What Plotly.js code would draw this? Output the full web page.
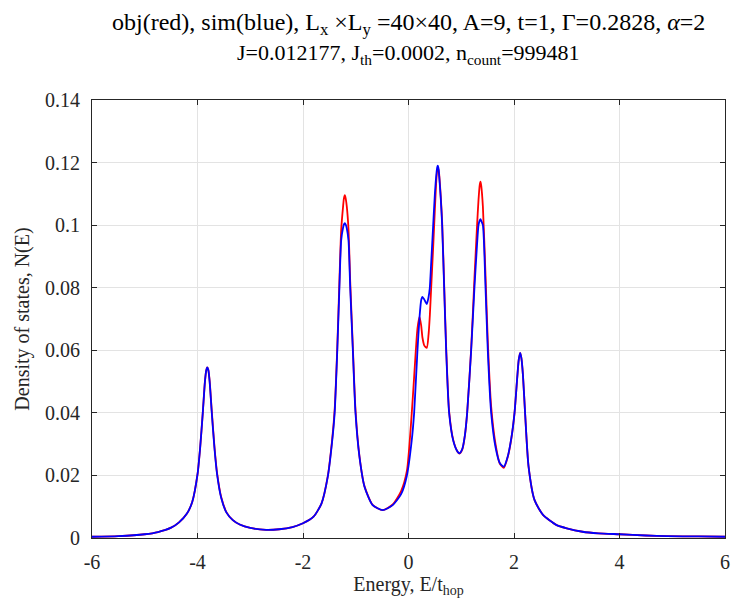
<!DOCTYPE html>
<html>
<head>
<meta charset="utf-8">
<script src="https://cdn.plot.ly/plotly-3.0.1.min.js"></script>
<style>html,body{margin:0;padding:0;background:#fff;}#chart{width:739px;height:612px;}</style>
</head>
<body>
<div id="chart"></div>
<script>
const energy = [-6, -5.5, -5, -4.75, -4.5, -4.35, -4.2, -4.1, -4.0, -3.95, -3.9, -3.86, -3.835, -3.815, -3.795, -3.77, -3.73, -3.68, -3.63, -3.55, -3.45, -3.33, -3.2, -3.0, -2.7, -2.45, -2.2, -2.0, -1.8, -1.65, -1.53, -1.45, -1.4, -1.35, -1.31, -1.276, -1.24, -1.225, -1.207, -1.19, -1.17, -1.137, -1.105, -1.055, -1.005, -0.93, -0.834, -0.68, -0.49, -0.3, -0.14, -0.03, 0.06, 0.107, 0.17, 0.209, 0.24, 0.265, 0.3, 0.347, 0.38, 0.404, 0.43, 0.468, 0.5, 0.53, 0.545, 0.555, 0.568, 0.58, 0.61, 0.638, 0.676, 0.714, 0.77, 0.85, 0.93, 0.967, 1.02, 1.07, 1.112, 1.188, 1.25, 1.3, 1.327, 1.35, 1.365, 1.38, 1.41, 1.46, 1.503, 1.567, 1.65, 1.73, 1.807, 1.88, 1.95, 2.01, 2.06, 2.09, 2.117, 2.14, 2.17, 2.21, 2.275, 2.39, 2.55, 2.8, 3.0, 3.3, 3.6, 4.0, 4.5, 4.9, 5.5, 6.0];

const dosSim = [0.0004, 0.0006, 0.0012, 0.0019, 0.0033, 0.0050, 0.0078, 0.0115, 0.0203, 0.0288, 0.0400, 0.0498, 0.0535, 0.0545, 0.0537, 0.0500, 0.0402, 0.0290, 0.0205, 0.0128, 0.0081, 0.0057, 0.0043, 0.0032, 0.0026, 0.0028, 0.0035, 0.0047, 0.0068, 0.0110, 0.0196, 0.0305, 0.0400, 0.0600, 0.0800, 0.0952, 0.0992, 0.1002, 0.1006, 0.1002, 0.0990, 0.0950, 0.0800, 0.0600, 0.0400, 0.0260, 0.0164, 0.0105, 0.0089, 0.0105, 0.0140, 0.0200, 0.0310, 0.0400, 0.0600, 0.0705, 0.0760, 0.0771, 0.0762, 0.0748, 0.0770, 0.0800, 0.0880, 0.1000, 0.1100, 0.1165, 0.1185, 0.1190, 0.1182, 0.1160, 0.1090, 0.1000, 0.0800, 0.0600, 0.0400, 0.0310, 0.0276, 0.0271, 0.0285, 0.0330, 0.0400, 0.0600, 0.0800, 0.0940, 0.1000, 0.1015, 0.1019, 0.1013, 0.1000, 0.0800, 0.0600, 0.0400, 0.0290, 0.0240, 0.0228, 0.0260, 0.0320, 0.0400, 0.0510, 0.0570, 0.0592, 0.0575, 0.0520, 0.0400, 0.0230, 0.0121, 0.0074, 0.0042, 0.0031, 0.0020, 0.0015, 0.0012, 0.0008, 0.0006, 0.0005, 0.0004];

const dosObj = [0.0004, 0.0006, 0.0012, 0.0019, 0.0033, 0.0050, 0.0078, 0.0115, 0.0203, 0.0288, 0.0400, 0.0498, 0.0535, 0.0545, 0.0538, 0.0503, 0.0407, 0.0295, 0.0209, 0.0130, 0.0082, 0.0057, 0.0043, 0.0032, 0.0026, 0.0028, 0.0035, 0.0047, 0.0068, 0.0110, 0.0198, 0.0310, 0.0410, 0.0610, 0.0820, 0.0985, 0.1060, 0.1085, 0.1096, 0.1085, 0.1060, 0.0985, 0.0820, 0.0610, 0.0410, 0.0262, 0.0165, 0.0106, 0.0089, 0.0107, 0.0150, 0.0215, 0.0395, 0.0515, 0.0670, 0.0707, 0.0680, 0.0640, 0.0615, 0.0608, 0.0650, 0.0710, 0.0800, 0.0930, 0.1050, 0.1150, 0.1175, 0.1180, 0.1178, 0.1165, 0.1095, 0.1010, 0.0810, 0.0610, 0.0405, 0.0312, 0.0276, 0.0270, 0.0283, 0.0328, 0.0400, 0.0605, 0.0830, 0.1000, 0.1080, 0.1128, 0.1139, 0.1125, 0.1060, 0.0840, 0.0630, 0.0420, 0.0300, 0.0238, 0.0224, 0.0258, 0.0318, 0.0400, 0.0510, 0.0570, 0.0592, 0.0575, 0.0520, 0.0400, 0.0230, 0.0121, 0.0074, 0.0042, 0.0031, 0.0020, 0.0015, 0.0012, 0.0008, 0.0006, 0.0005, 0.0004];

const xTicks = [-6, -4, -2, 0, 2, 4, 6];
const yTicks = [0, 0.02, 0.04, 0.06, 0.08, 0.1, 0.12, 0.14];
const yTickText = ['0', '0.02', '0.04', '0.06', '0.08', '0.1', '0.12', '0.14'];
const titleLine1 = 'obj(red), sim(blue), L<sub>x</sub> ×L<sub>y</sub> =40×40, A=9, t=1, Γ=0.2828, <i>α</i>=2';
const titleLine2 = 'J=0.012177, J<sub>th</sub>=0.0002, n<sub>count</sub>=999481';

const serif = 'Liberation Serif';
const axisCol = '#262626';
const tickFontSize = 20;

const traces = [
  {x: energy, y: dosObj, type: 'scatter', mode: 'lines', name: 'obj',
   line: {color: '#ff0000', width: 1.8, shape: 'spline', smoothing: 0.6}},
  {x: energy, y: dosSim, type: 'scatter', mode: 'lines', name: 'sim',
   line: {color: '#0000ff', width: 1.8, shape: 'spline', smoothing: 0.6}}
];

const layout = {
  width: 739, height: 612,
  font: {family: serif, size: tickFontSize, color: axisCol},
  margin: {l: 92, r: 14, t: 100, b: 74},
  paper_bgcolor: '#ffffff', plot_bgcolor: '#ffffff',
  showlegend: false,
  annotations: [
    {text: titleLine1, xref: 'paper', yref: 'paper', x: 0.5, y: 1.174, xanchor: 'center', yanchor: 'middle',
     showarrow: false, font: {family: serif, size: 24, color: '#000'}},
    {text: titleLine2, xref: 'paper', yref: 'paper', x: 0.5, y: 1.104, xanchor: 'center', yanchor: 'middle',
     showarrow: false, font: {family: serif, size: 22, color: '#000'}}
  ],
  xaxis: {
    range: [-6, 6], tickvals: xTicks, ticktext: xTicks.map(String),
    showline: true, linecolor: axisCol, linewidth: 1, mirror: 'ticks',
    ticks: 'inside', ticklen: 5, tickcolor: axisCol, tickwidth: 1, ticklabelstandoff: 6,
    showgrid: true, gridcolor: '#e3e3e3', gridwidth: 1, zeroline: false,
    tickfont: {family: serif, size: tickFontSize, color: axisCol},
    title: {text: 'Energy, E/t<sub>hop</sub>', font: {family: serif, size: 20, color: axisCol}, standoff: 3}
  },
  yaxis: {
    range: [0, 0.14], tickvals: yTicks, ticktext: yTickText,
    showline: true, linecolor: axisCol, linewidth: 1, mirror: 'ticks',
    ticks: 'inside', ticklen: 5, tickcolor: axisCol, tickwidth: 1, ticklabelstandoff: 7,
    showgrid: true, gridcolor: '#e3e3e3', gridwidth: 1, zeroline: false,
    tickfont: {family: serif, size: tickFontSize, color: axisCol},
    title: {text: 'Density of states, N(E)', font: {family: serif, size: 20, color: axisCol}, standoff: 10}
  }
};

Plotly.newPlot('chart', traces, layout, {displayModeBar: false, staticPlot: true});
</script>
</body>
</html>
